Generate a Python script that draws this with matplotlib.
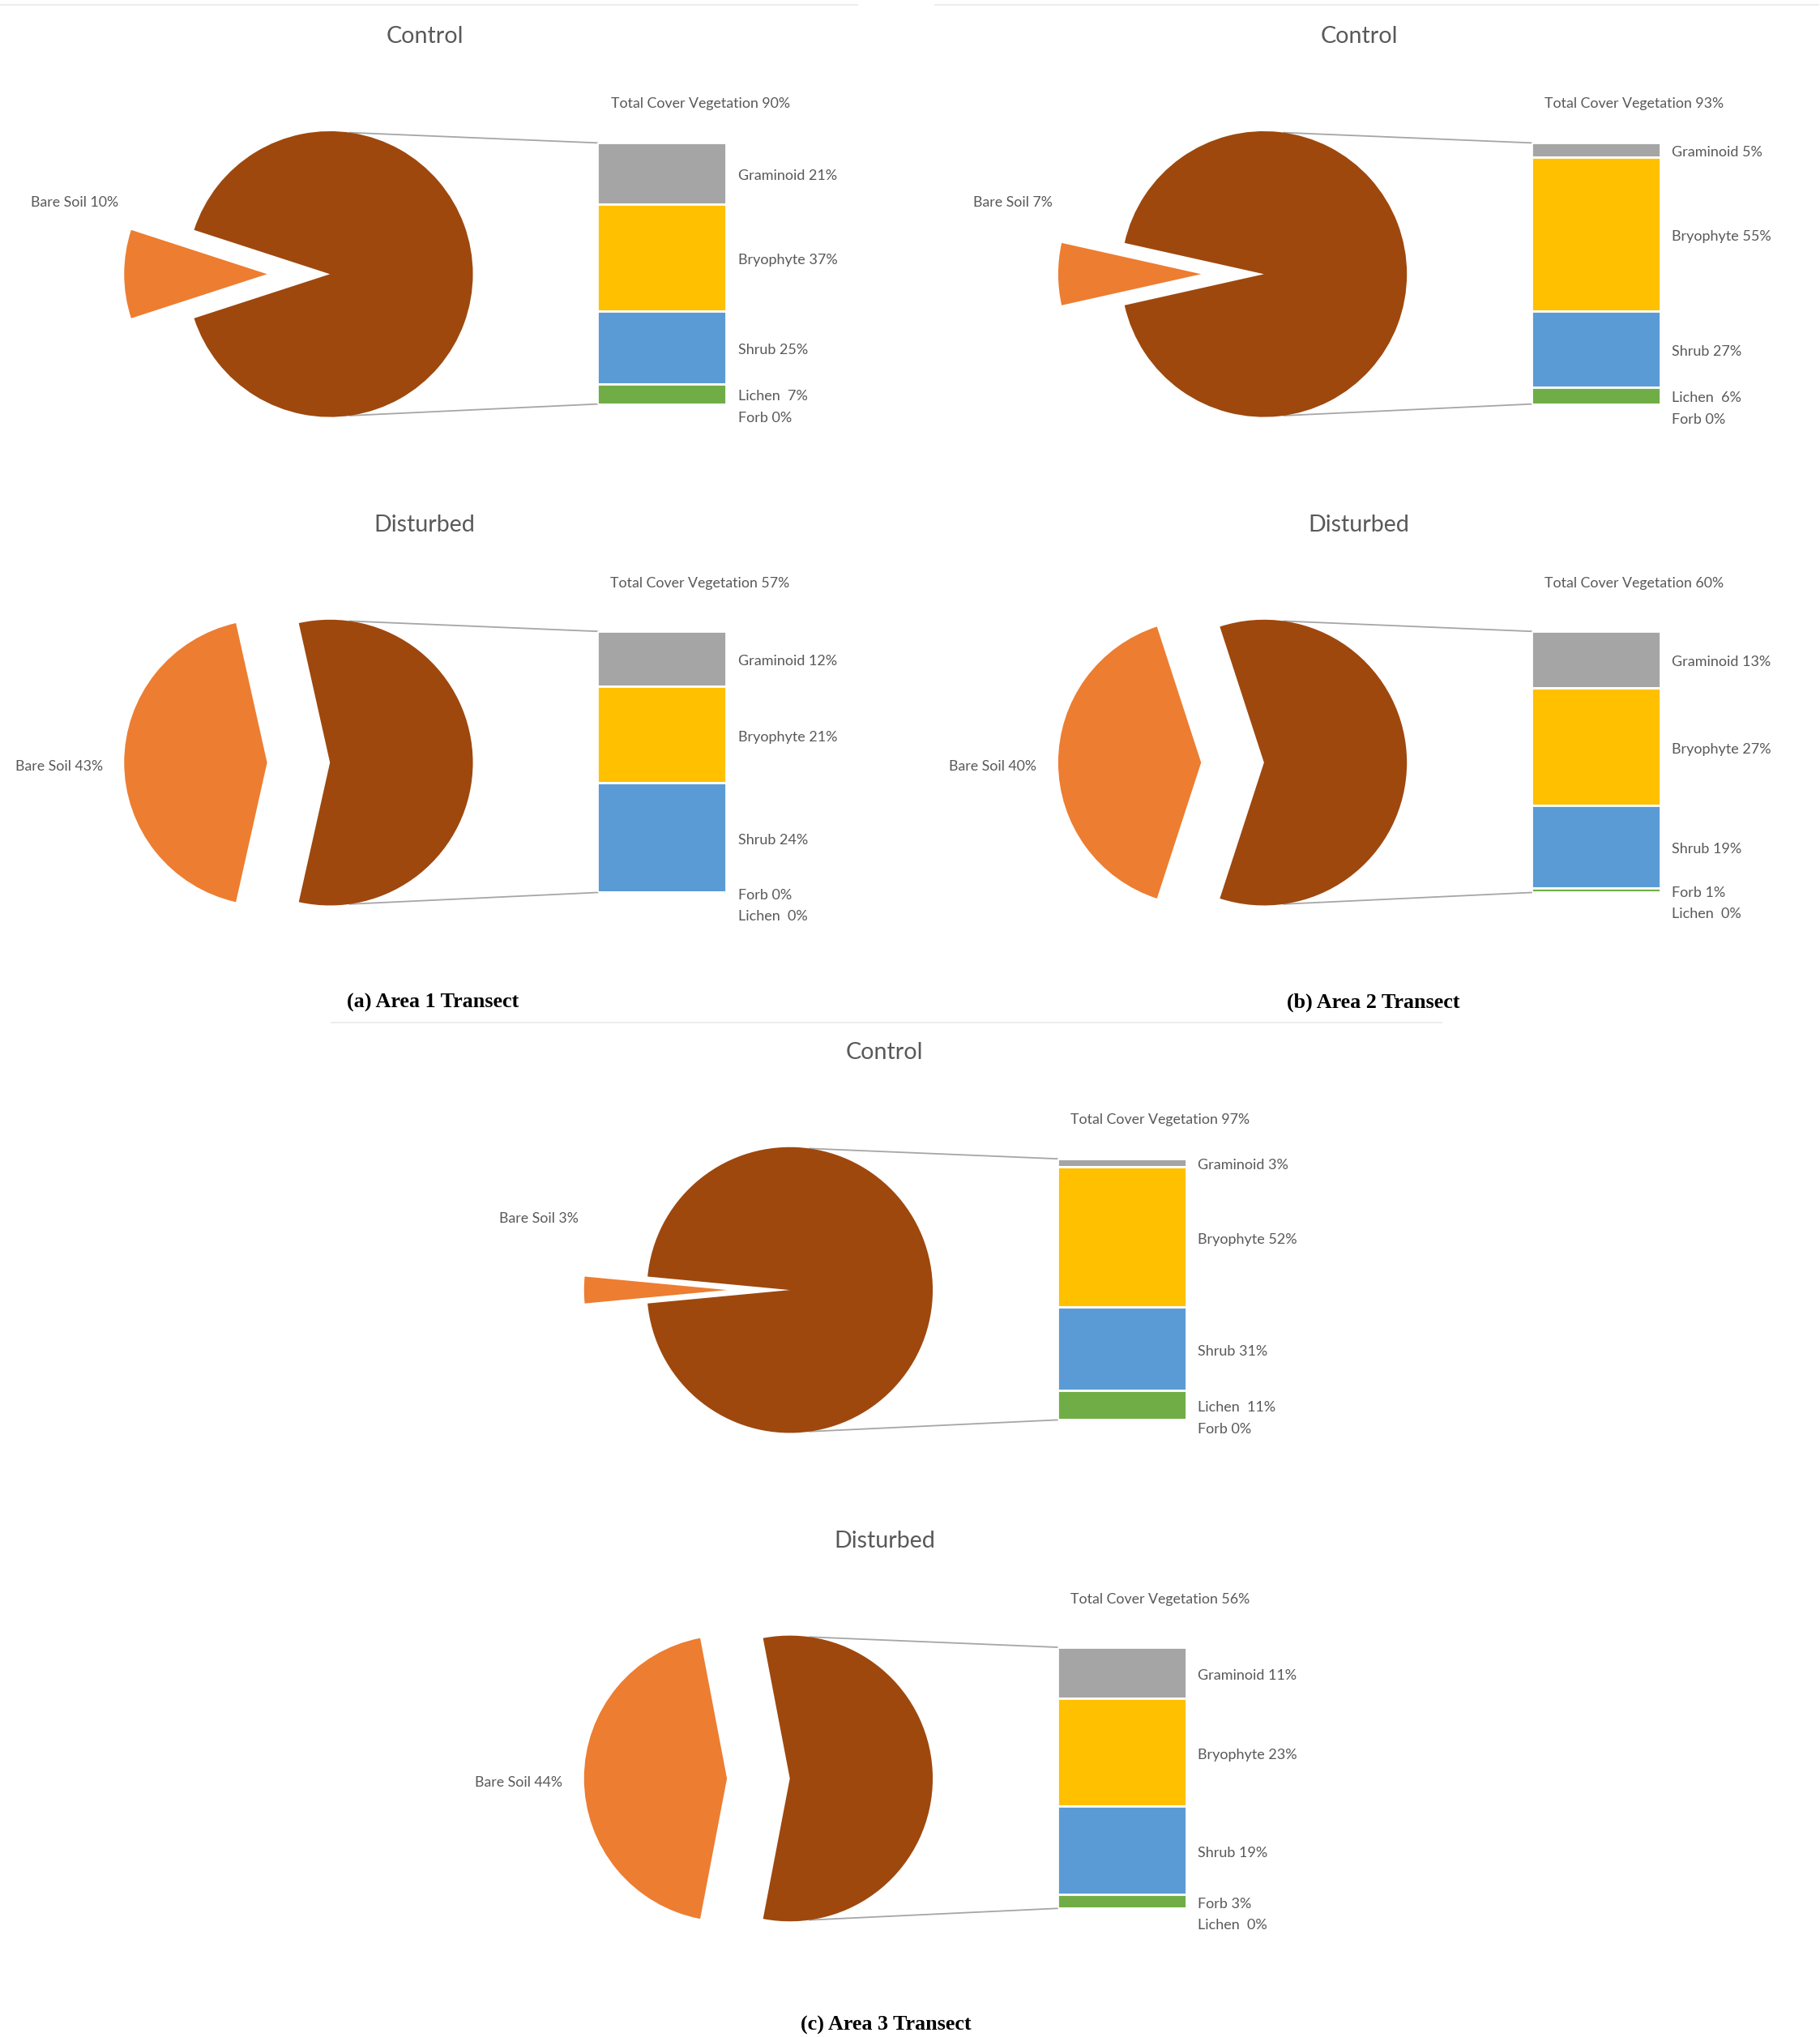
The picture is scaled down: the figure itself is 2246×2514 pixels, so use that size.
import numpy as np
import matplotlib
matplotlib.use("Agg")
import matplotlib.pyplot as plt

plt.rcParams["font.family"] = ["Lato", "DejaVu Sans"]

# layout grid = the reference shrunk to 1401 x 1568
W, H = 1401, 1568

bare_soil = [10, 43, 7, 40, 3, 44]
panel_titles = ["Control", "Disturbed", "Control", "Disturbed", "Control", "Disturbed"]
captions = ["(a) Area 1 Transect", "(b) Area 2 Transect", "(c) Area 3 Transect"]

control_names = ["Graminoid", "Bryophyte", "Shrub", "Lichen ", "Forb"]
disturbed_names = ["Graminoid", "Bryophyte", "Shrub", "Forb", "Lichen "]

area1_control = [21, 37, 25, 7, 0]
area1_disturbed = [12, 21, 24, 0, 0]
area2_control = [5, 55, 27, 6, 0]
area2_disturbed = [13, 27, 19, 1, 0]
area3_control = [3, 52, 31, 11, 0]
area3_disturbed = [11, 23, 19, 3, 0]

veg_values = [area1_control, area1_disturbed, area2_control,
              area2_disturbed, area3_control, area3_disturbed]
veg_names = [control_names, disturbed_names] * 3

ORANGE = "#ED7D31"
BROWN = "#9E480E"
BAR_COLORS = ["#A5A5A5", "#FFC000", "#5B9BD5", "#70AD47", "#264478"]
TXT = "#595959"
DY = 2  # small text nudge

fig = plt.figure(figsize=(22.46, 25.14), dpi=100)
over = fig.add_axes([0, 0, 1, 1])
over.set_xlim(0, W)
over.set_ylim(H, 0)
over.axis("off")


def add_ax(x, y, w, h):
    return fig.add_axes([x / W, 1 - (y + h) / H, w / W, h / H])


def draw_panel(ox, oy, title, bare, names, values, disturbed):
    over.text(ox + 327, oy + 26 + DY, title, ha="center", va="center", fontsize=20.6, color=TXT)
    total = sum(values)
    ty = oy + (71 if disturbed else 78)
    over.text(ox + 539, ty + DY, f"Total Cover Vegetation {total}%", ha="center",
              va="center", fontsize=12.8, color=TXT)

    # pie with bare soil pulled out to the left
    cx, cy, r = ox + 254, oy + 211, 110
    pax = add_ax(cx - 1.6 * r, cy - 1.6 * r, 3.2 * r, 3.2 * r)
    pax.pie([bare, 100 - bare], colors=[ORANGE, BROWN], startangle=180 - bare * 1.8,
            explode=[0.44, 0], radius=1, frame=True)
    pax.set_xlim(-1.6, 1.6)
    pax.set_ylim(-1.6, 1.6)
    pax.axis("off")
    if disturbed:
        over.text(ox + 79, oy + 212 + DY, f"Bare Soil {bare}%", ha="right", va="center",
                  fontsize=12.8, color=TXT)
    else:
        over.text(ox + 91, oy + 154 + DY, f"Bare Soil {bare}%", ha="right", va="center",
                  fontsize=12.8, color=TXT)

    # stacked bar of the vegetation part
    bx, by, bw, bh = ox + 460, oy + 110, 99, 201
    bax = add_ax(bx, by, bw, bh)
    vals = np.array(values, dtype=float)
    bottoms = total - np.cumsum(vals)
    bax.bar([0] * len(vals), vals, bottom=bottoms, width=1.0,
            color=BAR_COLORS[:len(vals)], edgecolor="white", linewidth=2)
    bax.set_xlim(-0.5, 0.5)
    bax.set_ylim(0, total)
    bax.axis("off")

    # labels, pushed down when they would overlap
    last = -1e9
    for name, v, b in zip(names, vals, bottoms):
        ly = by + (total - (b + v / 2)) / total * bh
        ly = max(ly, last + 16.5)
        last = ly
        over.text(ox + 568, ly + DY, f"{name} {int(v)}%", ha="left", va="center",
                  fontsize=13, color=TXT)

    # connector lines pie -> bar
    a = np.deg2rad(82)
    over.plot([cx + r * np.cos(a), bx], [cy - r * np.sin(a), by], color="#A6A6A6", lw=1.3)
    over.plot([cx + r * np.cos(a), bx], [cy + r * np.sin(a), by + bh], color="#A6A6A6", lw=1.3)


offsets = [(0, 0), (719, 0), (354, 782)]
for i, (ox, oy) in enumerate(offsets):
    for j in range(2):
        k = 2 * i + j
        draw_panel(ox, oy + 376 * j, panel_titles[k], bare_soil[k], veg_names[k],
                   veg_values[k], j == 1)

cap_pos = [(333, 770), (1057, 770), (682, 1557)]
for cap, (x, y) in zip(captions, cap_pos):
    over.text(x, y + DY, cap, ha="center", va="center", fontsize=18.8, fontweight="bold",
              family="Liberation Serif", color="black")

# faint frame lines of the original panels
over.plot([0, 660], [4, 4], color="#EDEDED", lw=1.5)
over.plot([720, 1400], [4, 4], color="#EDEDED", lw=1.5)
over.plot([255, 1110], [787, 787], color="#EDEDED", lw=1.5)

fig.savefig("out.png", dpi=100)
